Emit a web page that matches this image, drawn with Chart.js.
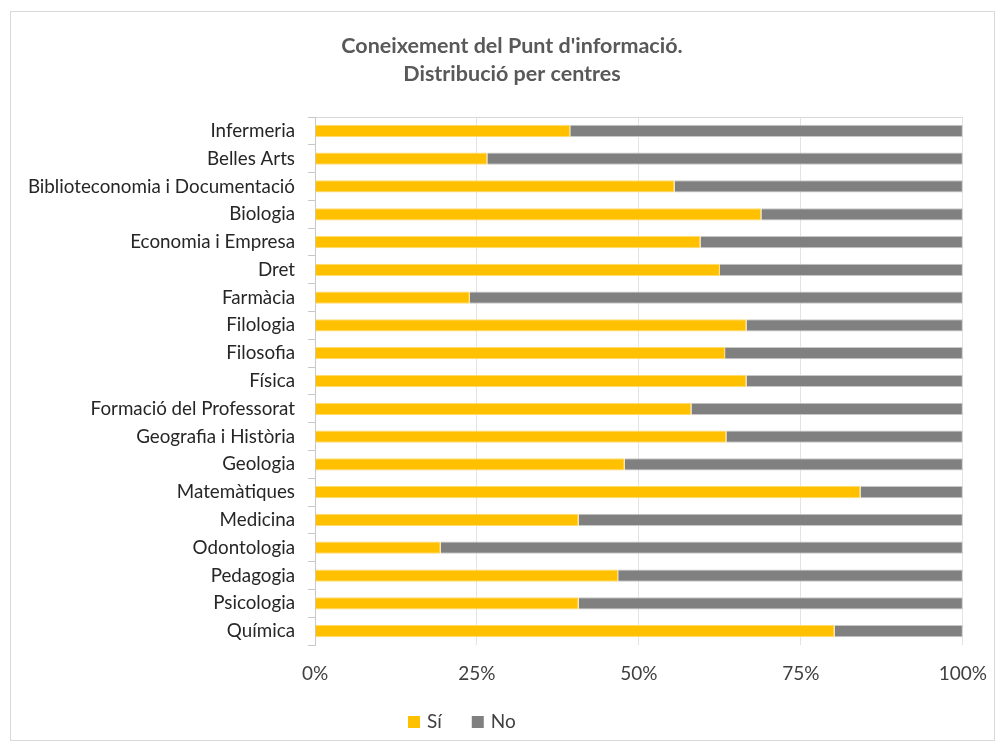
<!DOCTYPE html>
<html>
<head>
<meta charset="utf-8">
<script src="https://cdn.jsdelivr.net/npm/chart.js@4"></script>
<style>
  body { margin: 0; background: #fff; }
  #wrap { position: relative; width: 1004px; height: 749px; }
  #frame { position: absolute; left: 10px; top: 11px; width: 983px; height: 728px; border: 1px solid #d9d9d9; }
  #canvas { position: absolute; left: 0; top: 0; }
</style>
</head>
<body>
<div id="wrap">
  <div id="frame"></div>
  <canvas id="canvas" width="1004" height="749"></canvas>
</div>
<script>
const labels = ['Infermeria','Belles Arts','Biblioteconomia i Documentació','Biologia','Economia i Empresa','Dret','Farmàcia','Filologia','Filosofia','Física','Formació del Professorat','Geografia i Història','Geologia','Matemàtiques','Medicina','Odontologia','Pedagogia','Psicologia','Química']
const si = [39.4, 26.6, 55.5, 68.9, 59.5, 62.5, 23.9, 66.6, 63.3, 66.6, 58.1, 63.5, 47.8, 84.2, 40.7, 19.4, 46.8, 40.7, 80.2]
const no = [60.6, 73.4, 44.5, 31.1, 40.5, 37.5, 76.1, 33.4, 36.7, 33.4, 41.9, 36.5, 52.2, 15.8, 59.3, 80.6, 53.2, 59.3, 19.8]
const titleLines = ["Coneixement del Punt d'informació.", 'Distribució per centres']
const xTicks = [0, 25, 50, 75, 100]

const FONT = 'Lato'

// title drawn by hand so it can sit off-centre like the original
const titlePlugin = {
  id: 'titleLines',
  afterDraw(chart) {
    const ctx = chart.ctx
    ctx.save()
    ctx.font = 'bold 21.5px ' + FONT
    ctx.fillStyle = '#595959'
    ctx.textAlign = 'center'
    ctx.textBaseline = 'middle'
    ctx.fillText(titleLines[0], 512, 46)
    ctx.fillText(titleLines[1], 512, 74)
    ctx.restore()
  }
}

const legendPlugin = {
  id: 'manualLegend',
  afterDraw(chart) {
    const ctx = chart.ctx
    ctx.save()
    ctx.font = '19px ' + FONT
    ctx.textBaseline = 'middle'
    ctx.textAlign = 'left'
    let x = 408
    const y = 722
    chart.data.datasets.forEach(ds => {
      ctx.fillStyle = ds.backgroundColor
      ctx.fillRect(x, y - 6, 12, 12)
      x += 19
      ctx.fillStyle = '#404040'
      ctx.fillText(ds.label, x, y)
      x += ctx.measureText(ds.label).width + 30
    })
    ctx.restore()
  }
}

const data = {
  labels: labels,
  datasets: [
    {
      label: 'Sí',
      data: si,
      backgroundColor: '#FFC000',
      borderColor: '#ffdb70',
      borderWidth: 1,
      barPercentage: 0.44,
      categoryPercentage: 1,
    },
    {
      label: 'No',
      data: no,
      backgroundColor: '#808080',
      borderColor: '#c8c8c8',
      borderWidth: 1,
      barPercentage: 0.44,
      categoryPercentage: 1,
    },
  ],
}

const config = {
  type: 'bar',
  data: data,
  plugins: [titlePlugin, legendPlugin],
  options: {
    indexAxis: 'y',
    responsive: false,
    animation: false,
    layout: { padding: { left: 20, right: 41, top: 117, bottom: 0 } },
    plugins: {
      legend: { display: false },
      title: { display: false },
      tooltip: { enabled: false },
    },
    scales: {
      x: {
        stacked: true,
        min: 0,
        max: 100,
        afterBuildTicks: s => { s.ticks = xTicks.map(v => ({ value: v })) },
        afterFit: s => { s.height = 104 },
        grid: { color: '#e3e3e3', drawTicks: false },
        border: { display: false },
        ticks: {
          padding: 17,
          color: '#404040',
          font: { family: FONT, size: 19 },
          callback: v => v + '%',
        },
      },
      x2: {
        type: 'linear',
        position: 'top',
        display: true,
        afterFit: s => { s.height = 0 },
        grid: { display: false },
        ticks: { display: false },
        border: { display: true, color: '#d9d9d9', width: 1 },
      },
      y: {
        stacked: true,
        afterFit: s => { s.width = 295 },
        grid: { offset: true, drawOnChartArea: false, tickLength: 7, color: '#c8c8c8' },
        border: { color: '#c8c8c8' },
        ticks: {
          padding: 13,
          color: '#262626',
          font: { family: FONT, size: 18.8 },
        },
      },
    },
  },
}

const canvas = document.getElementById('canvas')
const chart = new Chart(canvas, config)
</script>
</body>
</html>
